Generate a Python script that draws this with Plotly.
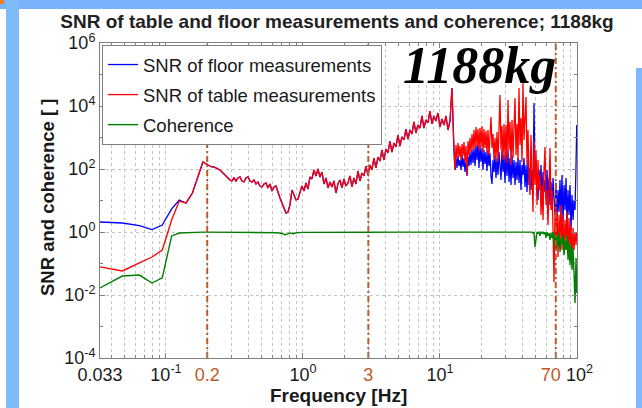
import plotly.graph_objects as go

# ---------------- data ----------------
# low-frequency part (smooth)
freq_low = [0.033, 0.048, 0.064, 0.079, 0.094, 0.110, 0.125, 0.140, 0.156, 0.171, 0.186]
floor_low = [2.08, 1.93, 1.6, 1.2, 1.67, 5.4, 10.4, 8.3, 17.3, 60, 167]
table_low = [0.078, 0.058, 0.104, 0.161, 0.268, 2.4, 9.6, 8.3, 17.3, 58, 167]
coh_low = [0.0167, 0.040, 0.043, 0.024, 0.035, 0.75, 0.93, 0.96, 0.98, 0.99, 0.99]

# mid part: floor and table SNR coincide (0.2 - 12.7 Hz)
freq_mid = [0.2025, 0.2095, 0.2167, 0.2241, 0.2317, 0.2396, 0.2478, 0.2563, 0.2651, 0.2742,
            0.2835, 0.2932, 0.3032, 0.3136, 0.3243, 0.3354, 0.3469, 0.3587, 0.3710, 0.3837,
            0.3968, 0.4104, 0.4244, 0.4389, 0.4539, 0.4694, 0.4855, 0.5021, 0.5193, 0.5370,
            0.5554, 0.5744, 0.5940, 0.6143, 0.6353, 0.6570, 0.6795, 0.7027, 0.7267, 0.7516,
            0.7773, 0.8039, 0.8313, 0.8598, 0.8892, 0.9195, 0.9508,
            0.9833, 1.017, 1.052, 1.088, 1.125, 1.163, 1.203, 1.244, 1.287, 1.331,
            1.376, 1.423, 1.472, 1.522, 1.574, 1.628, 1.683, 1.741, 1.800, 1.862,
            1.925, 1.991, 2.059, 2.130, 2.202, 2.278, 2.355, 2.436, 2.519, 2.605,
            2.694, 2.786, 2.882, 2.980, 3.082, 3.187, 3.296, 3.409, 3.525, 3.646,
            3.770, 3.899, 4.032, 4.170, 4.313, 4.460, 4.612, 4.770, 4.933, 5.102,
            5.276, 5.456, 5.643, 5.836, 6.035, 6.241, 6.455, 6.675, 6.903, 7.139,
            7.383, 7.635, 7.896, 8.166, 8.445, 8.734, 9.032, 9.341, 9.660, 10.0,
            10.34, 10.70, 11.06, 11.44, 11.83, 12.23, 12.44, 12.65]
snr_mid = [134, 124, 116, 116, 108, 100, 92.9, 80.3, 69.4, 60.0,
           48.2, 44.8, 41.7, 51.9, 41.7, 51.9, 55.8, 41.7, 38.7, 51.9,
           55.8, 41.7, 38.7, 44.8, 33.5, 38.7, 28.9, 26.9, 33.5, 36.0,
           25.0, 33.5, 20.0, 26.9, 28.9, 17.3, 12.0, 8.33, 5.37, 4.01,
           4.31, 7.20, 21.5, 13.9, 10.4, 11.2, 18.6,
           28.9, 20.0, 36.0, 23.2, 55.8, 48.2, 92.9, 60.0, 100, 55.8,
           80.3, 33.5, 51.9, 25.0, 38.7, 26.9, 41.7, 17.3, 33.5, 44.8,
           25.0, 48.2, 28.9, 36.0, 60.0, 26.9, 51.9, 33.5, 86.4, 41.7,
           74.7, 60.0, 124, 64.5, 134, 92.9, 223, 108, 240, 179,
           401, 193, 431, 322, 774, 346, 669, 499, 1200, 537,
           1040, 833, 1860, 896, 1730, 1290, 3110, 1390, 2490, 2000,
           4820, 2000, 3600, 2890, 6940, 2690, 4820, 3340, 5990, 2150,
           3870, 2490, 4820, 1730, 3340, 37300, 1610, 401]

# high-frequency part (12.9 - 100 Hz)
freq_high = [12.87, 13.09, 13.31, 13.54, 13.77, 14.00, 14.24, 14.48, 14.72, 14.97,
             15.23, 15.48, 15.75, 16.01, 16.29, 16.56, 16.84, 17.13, 17.42, 17.71,
             18.01, 18.32, 18.63, 18.94, 19.26, 19.59, 19.92, 20.26, 20.60, 20.95,
             21.31, 21.67, 22.03, 22.41, 22.79, 23.17, 23.57, 23.97, 24.37, 24.78,
             25.20, 25.63, 26.07, 26.51, 26.96, 27.41, 27.88, 28.35, 28.83, 29.32,
             29.82, 30.32, 30.84, 31.36, 31.89, 32.43, 32.98, 33.54, 34.11, 34.69,
             35.28, 35.87, 36.48, 37.10, 37.73, 38.37, 39.02, 39.68, 40.35, 41.04,
             41.73, 42.44, 43.16, 43.89, 44.64, 45.39, 46.16, 46.95, 47.74, 48.55,
             49.38, 50.21, 51.07, 51.93, 52.81, 53.71, 54.62, 55.55, 56.49, 57.45,
             58.42, 59.41, 60.42, 61.44, 62.49, 63.55, 64.62, 65.72, 66.83, 67.97,
             69.12, 70.29, 71.48, 72.70, 73.93, 75.18, 76.46, 77.75, 79.07, 80.41,
             81.78, 83.16, 84.57, 86.01, 87.46, 88.95, 90.45, 91.99, 93.55, 95.13,
             96.75, 98.39, 99.6]
table_high = [92.9, 578, 223, 669, 240, 537, 193, 622, 259, 720,
              167, 537, 64.5, 774, 278, 964, 346, 1290, 401, 1730,
              464, 2150, 537, 1860, 401, 2000, 499, 2320, 346, 1860,
              464, 1610, 322, 1730, 278, 1500, 4470, 464, 1290, 193,
              964, 223, 1500, 167, 2000, 22300, 401, 2320, 193, 2690,
              223, 2490, 155, 15500, 401, 3110, 134, 3600, 223, 4160,
              17900, 278, 2690, 193, 37300, 578, 4160, 167, 53700, 833,
              3600, 19300, 134, 1730, 64.5, 15.0, 1200, 44.8, 4.31, 833,
              31.1, 401, 7.20, 193, 21.5, 64.5, 3.46, 31.1, 2.40, 92.9,
              499, 7.20, 21.5, 1.67, 64.5, 464, 4.99, 21.5, 1.16, 0.0259,
              7.20, 0.387, 4.99, 0.161, 3.46, 0.448, 7.20, 0.268, 3.46, 0.215,
              2.40, 0.557, 4.31, 0.186, 2.78, 0.31, 1.67, 0.129, 1.34, 0.268,
              1.00, 0.387, 1.00]
floor_high = [92.9, 223, 108, 259, 124, 193, 92.9, 278, 116, 223,
              80.3, 167, 60.0, 259, 124, 346, 134, 401, 155, 464,
              124, 578, 193, 669, 108, 537, 167, 464, 92.9, 401,
              144, 346, 86.4, 401, 124, 322, 60.0, 33.5, 193, 80.3,
              278, 51.9, 223, 64.5, 346, 155, 44.8, 401, 80.3, 278,
              36.0, 322, 60.0, 401, 38.7, 223, 31.1, 278, 51.9, 193,
              31.1, 167, 44.8, 223, 36.0, 193, 21.5, 134, 64.5, 223,
              26.9, 134, 18.6, 193, 31.1, 108, 21.5, 92.9, 15.0, 12450,
              64.5, 193, 15.0, 10.4, 92.9, 21.5, 134, 10.4, 80.3, 18.6,
              44.8, 12.0, 92.9, 10.4, 51.9, 7.20, 38.7, 4.99, 51.9, 10.4,
              3.46, 36.0, 2.40, 21.5, 4.31, 44.8, 2.78, 64.5, 2.08, 31.1,
              4.99, 51.9, 1.67, 21.5, 3.46, 31.1, 1.16, 15.0, 2.40, 10.4,
              4.99, 134, 2490]

# coherence
coh_freq_mid = [0.2025, 0.25, 0.3, 0.35, 0.4, 0.45, 0.5, 0.55, 0.6, 0.65,
                0.7, 0.74, 0.77, 0.8, 0.85, 0.9, 1.0, 1.2, 1.5, 2.0,
                3.0, 5.0, 8.0, 12.0, 20.0, 30.0, 40.0]
coh_mid = [0.99, 0.98, 0.97, 0.98, 0.97, 0.98, 0.97, 0.96, 0.97, 0.95,
           0.90, 0.82, 0.86, 0.93, 0.88, 0.95, 0.97, 0.98, 0.97, 0.98,
           0.98, 0.99, 0.99, 0.99, 0.99, 0.99, 0.99]
coh_freq_high = freq_high[75:]
coh_high = [0.99, 0.99, 0.99, 0.93, 0.99, 0.334, 0.557, 0.99, 0.93, 0.99,
            0.75, 0.99, 0.93, 0.99, 0.86, 0.99, 0.645, 0.99, 0.75, 0.93,
            0.557, 0.93, 0.645, 0.99, 0.387, 0.86, 0.268, 0.75, 0.36, 0.93,
            0.232, 0.645, 0.416, 0.80, 0.186, 0.557, 0.268, 0.75, 0.129, 0.48,
            0.0898, 0.387, 0.0622, 0.31, 0.050, 0.0056, 0.149, 0.0116]

marker_freqs = [0.2, 3, 70]

x_tickvals = [0.033, 0.1, 0.2, 1, 3, 10, 70, 100]
x_minor = [0.04, 0.05, 0.06, 0.07, 0.08, 0.09, 0.3, 0.4, 0.5, 0.6, 0.7, 0.8, 0.9,
           2, 4, 5, 6, 7, 8, 9, 20, 30, 40, 50, 60, 80, 90]
y_tickvals = [1e-4, 1e-2, 1, 1e2, 1e4, 1e6]
y_ticktext = ["10<sup>-4</sup>", "10<sup>-2</sup>", "10<sup>0</sup>",
              "10<sup>2</sup>", "10<sup>4</sup>", "10<sup>6</sup>"]
y_minor = [1e-3, 1e-1, 10, 1e3, 1e5]

BROWN = "#bd5b26"
x_ticktext = ["0.033", "10<sup>-1</sup>", f'<span style="color:{BROWN}">0.2</span>',
              "10<sup>0</sup>", f'<span style="color:{BROWN}">3</span>',
              "10<sup>1</sup>", f'<span style="color:{BROWN}">70</span>&nbsp;&nbsp;',
              "&nbsp;10<sup>2</sup>"]

# ---------------- figure ----------------
FONT = "Liberation Sans, Arial, sans-serif"
freq_snr = freq_low + freq_mid + freq_high
floor_snr = floor_low + snr_mid + floor_high
table_snr = table_low + snr_mid + table_high
freq_coh = freq_low + coh_freq_mid + coh_freq_high
coherence = coh_low + coh_mid + coh_high

fig = go.Figure()
fig.add_trace(go.Scatter(x=freq_snr, y=floor_snr, mode="lines", name="SNR of floor measurements",
                         line=dict(color="#0000ff", width=1.3), legendgroup="a"))
fig.add_trace(go.Scatter(x=freq_snr, y=table_snr, mode="lines", name="SNR of table measurements",
                         line=dict(color="#ff0000", width=1.3), legendgroup="b"))
fig.add_trace(go.Scatter(x=freq_coh, y=coherence, mode="lines", name="Coherence",
                         line=dict(color="#008000", width=1.4), legendgroup="c"))
for f in marker_freqs:
    fig.add_trace(go.Scatter(x=[f, f], y=[1e-4, 1e6], mode="lines", showlegend=False,
                             line=dict(color=BROWN, width=2, dash="6px,3px,2px,3px"),
                             hoverinfo="skip"))

W, H = 642, 408
L, R, T, B = 100, 65, 43, 50
pw, ph = W - L - R, H - T - B


def px(x):
    return (x - L) / pw


def py(y):
    return (H - B - y) / ph


shapes = [
    dict(type="rect", xref="paper", yref="paper", x0=px(0), x1=px(W), y0=py(9), y1=py(0),
         fillcolor="#79b3fc", line=dict(width=0), layer="above"),
    dict(type="rect", xref="paper", yref="paper", x0=px(6), x1=px(19), y0=py(H), y1=py(0),
         fillcolor="#80bbf9", line=dict(width=0), layer="above"),
    dict(type="rect", xref="paper", yref="paper", x0=px(636), x1=px(W), y0=py(H), y1=py(68),
         fillcolor="#7fb9fb", line=dict(width=0), layer="above"),
    dict(type="rect", xref="paper", yref="paper", x0=px(0), x1=px(4), y0=py(4), y1=py(0),
         fillcolor="#f07a1c", line=dict(width=0), layer="above"),
    dict(type="rect", xref="paper", yref="paper", x0=px(398), x1=px(553), y0=py(83), y1=py(48),
         fillcolor="white", line=dict(width=0), layer="above"),
]

annotations = [
    dict(text="1188kg", xref="paper", yref="paper", x=px(479), y=py(66), showarrow=False,
         xanchor="center", yanchor="middle",
         font=dict(family="Liberation Serif, Times New Roman, serif", size=52, color="black",
                   weight="bold", style="italic")),
    dict(text="<b>SNR and coherence [ ]</b>", xref="paper", yref="paper", x=px(47), y=py(198),
         textangle=-90, showarrow=False, xanchor="center", yanchor="middle",
         font=dict(family=FONT, size=18.5, color="#1a1a1a")),
    dict(text="<b>Frequency [Hz]</b>", xref="paper", yref="paper", x=px(338), y=py(395),
         showarrow=False, xanchor="center", yanchor="middle",
         font=dict(family=FONT, size=19, color="#1a1a1a")),
]

axis_common = dict(showline=True, linecolor="#808080", linewidth=1, mirror="ticks",
                   ticks="inside", ticklen=5, tickcolor="#808080", zeroline=False,
                   showgrid=True, gridcolor="#c4c4c4", griddash="dot", gridwidth=1,
                   automargin=False, tickangle=0,
                   tickfont=dict(family=FONT, size=18, color="#1a1a1a"))

fig.update_layout(
    width=W, height=H, margin=dict(l=L, r=R, t=T, b=B, autoexpand=False),
    paper_bgcolor="white", plot_bgcolor="white",
    title=dict(text="<b>SNR of table and floor measurements and coherence; 1188kg</b>",
               x=px(337), xref="paper", xanchor="center", y=1 - 21 / H, yref="container",
               yanchor="middle", font=dict(family=FONT, size=19, color="#222222"),
               automargin=False),
    xaxis=dict(type="log", range=[-1.48149, 2], tickmode="array", tickvals=x_tickvals,
               ticktext=x_ticktext,
               minor=dict(tickmode="array", tickvals=x_minor, ticks="inside", ticklen=3,
                          tickcolor="#808080", showgrid=True, gridcolor="#c4c4c4",
                          griddash="dot", gridwidth=1),
               **axis_common),
    yaxis=dict(type="log", range=[-4, 6], tickmode="array", tickvals=y_tickvals,
               ticktext=y_ticktext,
               minor=dict(tickmode="array", tickvals=y_minor, ticks="inside", ticklen=3,
                          tickcolor="#808080", showgrid=False),
               **axis_common),
    legend=dict(x=px(102), y=py(45), xanchor="left", yanchor="top", bgcolor="white",
                bordercolor="#808080", borderwidth=1, tracegroupgap=3, itemwidth=30,
                font=dict(family=FONT, size=18.5, color="#1a1a1a")),
    shapes=shapes, annotations=annotations, showlegend=True,
)

fig.write_html("out.html")
